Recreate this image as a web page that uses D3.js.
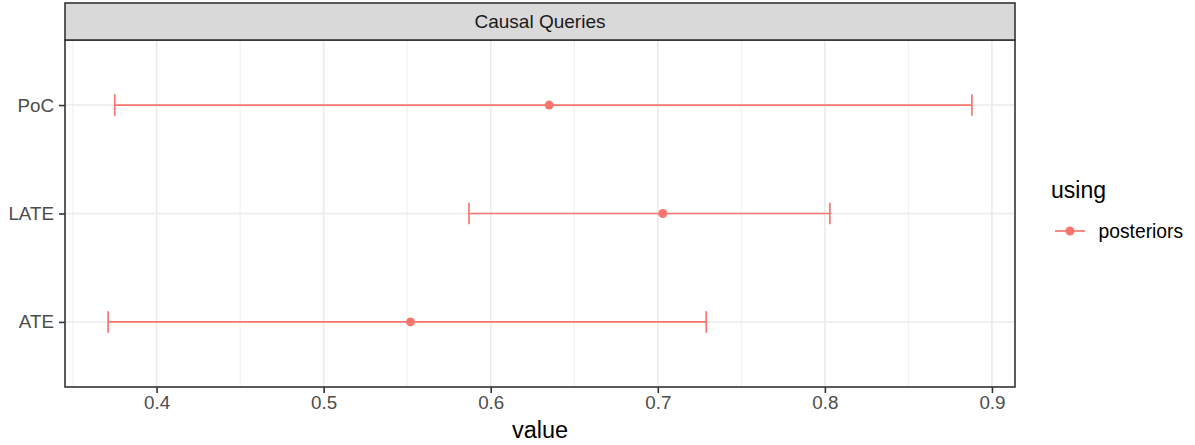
<!DOCTYPE html>
<html>
<head>
<meta charset="utf-8">
<script src="https://cdn.jsdelivr.net/npm/d3@7"></script>
<style>
  body { margin: 0; background: #fff; }
  svg { font-family: "Liberation Sans", Arial, sans-serif; }
</style>
</head>
<body>
<svg width="1195" height="445"></svg>
<script>
// data
var queries = ["ATE", "LATE", "PoC"];
var lower = [0.371, 0.587, 0.375];
var estimate = [0.552, 0.703, 0.635];
var upper = [0.729, 0.803, 0.888];
var xTicks = [0.4, 0.5, 0.6, 0.7, 0.8, 0.9];
var xMinor = [0.35, 0.45, 0.55, 0.65, 0.75, 0.85];
var seriesName = "posteriors";

var data = queries.map(function(q, i) {
  return { query: q, lo: lower[i], est: estimate[i], hi: upper[i] };
});

var red = "#F8766D";

var svg = d3.select("svg"),
  panel = { left: 65, right: 1015, top: 40, bottom: 387 },
  stripTop = 3;

var x = d3.scaleLinear()
  .domain([0.3452, 0.9138])
  .range([panel.left, panel.right]);

var y = d3.scalePoint()
  .domain(queries)
  .range([panel.bottom, panel.top])
  .padding(0.6);

// panel background + grid
var g = svg.append("g");
g.append("rect")
  .attr("x", panel.left).attr("y", panel.top)
  .attr("width", panel.right - panel.left)
  .attr("height", panel.bottom - panel.top)
  .attr("fill", "#fff");

g.selectAll(".minor")
  .data(xMinor)
  .enter().append("line")
  .attr("class", "minor")
  .attr("x1", d => x(d)).attr("x2", d => x(d))
  .attr("y1", panel.top).attr("y2", panel.bottom)
  .attr("stroke", "#EBEBEB").attr("stroke-width", 0.8);

g.selectAll(".major")
  .data(xTicks)
  .enter().append("line")
  .attr("class", "major")
  .attr("x1", d => x(d)).attr("x2", d => x(d))
  .attr("y1", panel.top).attr("y2", panel.bottom)
  .attr("stroke", "#EBEBEB").attr("stroke-width", 1.6);

g.selectAll(".hgrid")
  .data(queries)
  .enter().append("line")
  .attr("class", "hgrid")
  .attr("x1", panel.left).attr("x2", panel.right)
  .attr("y1", d => y(d)).attr("y2", d => y(d))
  .attr("stroke", "#EBEBEB").attr("stroke-width", 1.6);

// error bars
var bars = g.selectAll(".bar")
  .data(data)
  .enter().append("g")
  .attr("class", "bar");

bars.append("line")
  .attr("x1", d => x(d.lo)).attr("x2", d => x(d.hi))
  .attr("y1", d => y(d.query)).attr("y2", d => y(d.query))
  .attr("stroke", red).attr("stroke-width", 1.7);

bars.append("line")
  .attr("x1", d => x(d.lo)).attr("x2", d => x(d.lo))
  .attr("y1", d => y(d.query) - 10.8).attr("y2", d => y(d.query) + 10.8)
  .attr("stroke", red).attr("stroke-width", 1.7);

bars.append("line")
  .attr("x1", d => x(d.hi)).attr("x2", d => x(d.hi))
  .attr("y1", d => y(d.query) - 10.8).attr("y2", d => y(d.query) + 10.8)
  .attr("stroke", red).attr("stroke-width", 1.7);

bars.append("circle")
  .attr("cx", d => x(d.est)).attr("cy", d => y(d.query))
  .attr("r", 4.5)
  .attr("fill", red);

// panel border
g.append("rect")
  .attr("x", panel.left).attr("y", panel.top)
  .attr("width", panel.right - panel.left)
  .attr("height", panel.bottom - panel.top)
  .attr("fill", "none").attr("stroke", "#333333").attr("stroke-width", 1.6);

// strip
svg.append("rect")
  .attr("x", panel.left).attr("y", stripTop)
  .attr("width", panel.right - panel.left)
  .attr("height", panel.top - stripTop)
  .attr("fill", "#D9D9D9").attr("stroke", "#333333").attr("stroke-width", 1.6);

svg.append("text")
  .attr("x", (panel.left + panel.right) / 2)
  .attr("y", (stripTop + panel.top) / 2)
  .attr("dy", "0.35em")
  .attr("text-anchor", "middle")
  .style("font-size", "19px")
  .attr("fill", "#1A1A1A")
  .text("Causal Queries");

// axes
var xAxis = svg.append("g")
  .attr("transform", "translate(0," + panel.bottom + ")")
  .call(d3.axisBottom(x).tickValues(xTicks).tickSize(6).tickPadding(3).tickFormat(d3.format(".1f")));

var yAxis = svg.append("g")
  .attr("transform", "translate(" + panel.left + ",0)")
  .call(d3.axisLeft(y).tickSize(6).tickPadding(5));

[xAxis, yAxis].forEach(function(a) {
  a.attr("font-size", null).attr("font-family", null);
  a.select(".domain").remove();
  a.selectAll(".tick line").attr("stroke", "#333333").attr("stroke-width", 1.6);
  a.selectAll(".tick text")
    .attr("fill", "#4D4D4D")
    .style("font-size", "18.8px");
});

svg.append("text")
  .attr("x", (panel.left + panel.right) / 2)
  .attr("y", 438)
  .attr("text-anchor", "middle")
  .style("font-size", "23.5px")
  .attr("fill", "#000")
  .text("value");

// legend
var legend = svg.append("g").attr("transform", "translate(1055,0)");
legend.append("text")
  .attr("x", -4).attr("y", 198)
  .style("font-size", "23px")
  .attr("fill", "#000")
  .text("using");

legend.append("line")
  .attr("x1", 0).attr("x2", 30)
  .attr("y1", 231).attr("y2", 231)
  .attr("stroke", red).attr("stroke-width", 1.7);
legend.append("circle")
  .attr("cx", 15).attr("cy", 231).attr("r", 4.5)
  .attr("fill", red);
legend.append("text")
  .attr("x", 43.5).attr("y", 231)
  .attr("dy", "0.35em")
  .style("font-size", "19.3px")
  .attr("fill", "#000")
  .text(seriesName);
</script>
</body>
</html>
